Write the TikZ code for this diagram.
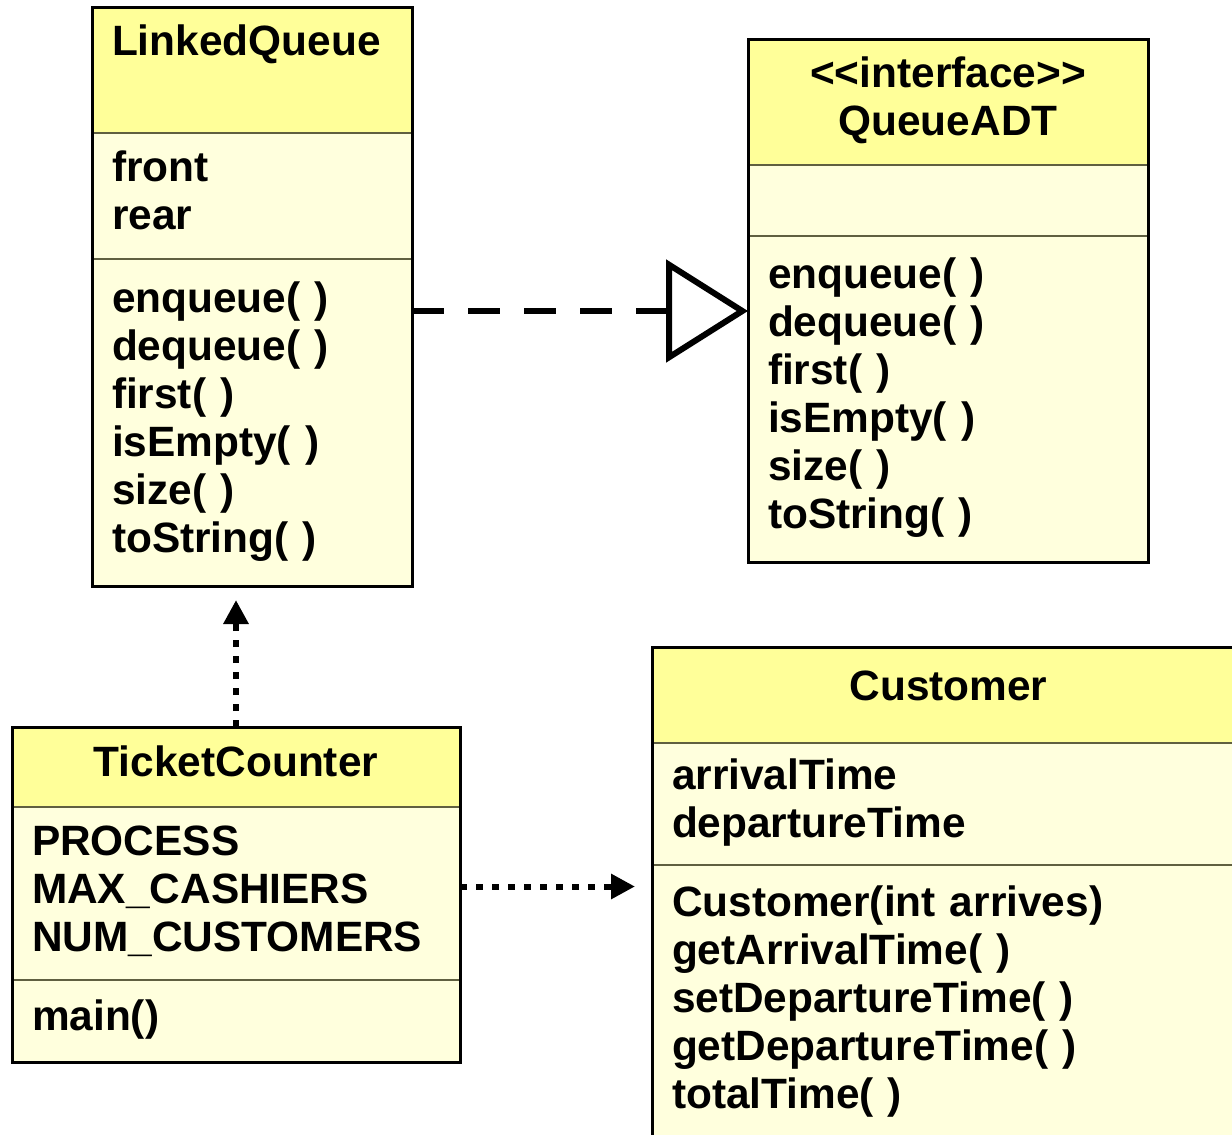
\documentclass[tikz,border=0pt]{standalone}
\usepackage{fontspec}
\setmainfont{Liberation Sans}
\usetikzlibrary{positioning,arrows.meta}
\definecolor{headyellow}{RGB}{255,255,153}
\definecolor{bodyyellow}{RGB}{255,255,221}
\definecolor{sepline}{RGB}{96,96,64}
\newcommand{\umlfont}{\fontsize{42.4}{48}\selectfont\bfseries}
\tikzset{
  classbox/.style={draw=sepline, line width=1.5pt, inner xsep=20pt, inner ysep=0pt,
    outer sep=0pt, font=\umlfont, align=left,
    execute at begin node=\strut, execute at end node=\strut},
  classname/.style={classbox, fill=headyellow},
  classpart/.style={classbox, fill=bodyyellow},
  outline/.style={line width=3pt},
  depend/.style={line width=6pt, dash pattern=on 7pt off 9pt,
    -{Triangle[length=24pt,width=24pt]}},
  realize/.style={line width=6pt, dash pattern=on 32pt off 24pt,
    -{Triangle[fill=white,length=82pt,width=102pt]}}
}
\begin{document}
\begin{tikzpicture}[x=1pt, y=-1pt, node distance=0pt]
\useasboundingbox (0,0) rectangle (1232,1135);
\clip (0,0) rectangle (1232,1135);
% LinkedQueue
\node(lq-name) [classname, anchor=north west, text width=280pt, minimum height=126pt] at (92,7) {LinkedQueue\\\mbox{}};
\node(lq-attr) [classpart, below=of lq-name, text width=280pt, minimum height=126pt] {front\\rear};
\node(lq-ops) [classpart, below=of lq-attr, text width=280pt, minimum height=327pt] {enqueue( )\\dequeue( )\\first( )\\isEmpty( )\\size( )\\toString( )};
\draw[outline] (lq-name.north west) rectangle (lq-ops.south east);
% QueueADT
\node(qa-name) [classname, align=center, anchor=north west, text width=360pt, minimum height=126pt] at (748,39) {<\kern0pt<interface>\kern0pt>\\QueueADT};
\node(qa-attr) [classpart, below=of qa-name, text width=360pt, minimum height=71pt] {};
\node(qa-ops) [classpart, below=of qa-attr, text width=360pt, minimum height=326pt] {enqueue( )\\dequeue( )\\first( )\\isEmpty( )\\size( )\\toString( )};
\draw[outline] (qa-name.north west) rectangle (qa-ops.south east);
% TicketCounter
\node(tc-name) [classname, align=center, anchor=north west, text width=408pt, minimum height=80pt] at (12,727) {TicketCounter};
\node(tc-attr) [classpart, below=of tc-name, text width=408pt, minimum height=173pt] {PROCESS\\MAX\_CASHIERS\\NUM\_CUSTOMERS};
\node(tc-ops) [classpart, below=of tc-attr, text width=408pt, minimum height=82pt] {main()};
\draw[outline] (tc-name.north west) rectangle (tc-ops.south east);
% Customer
\node(cu-name) [classname, align=center, anchor=north west, text width=553pt, minimum height=96pt, text depth=22pt] at (652,647) {Customer};
\node(cu-attr) [classpart, below=of cu-name, text width=553pt, minimum height=122pt] {arrivalTime\\departureTime};
\node(cu-ops) [classpart, below=of cu-attr, text width=553pt, minimum height=275pt] {Customer(int arrives)\\getArrivalTime( )\\setDepartureTime( )\\getDepartureTime( )\\totalTime( )};
\draw[outline] (cu-name.north west) rectangle (cu-ops.south east);
% relations
\draw[realize] ([yshift=-52pt]lq-ops.north east) -- ([yshift=-75pt]qa-ops.north west);
\draw[depend, shorten >=14pt] (tc-name.north) -- (tc-name.north |- lq-ops.south);
\draw[depend, shorten >=17pt] ([yshift=7pt]tc-attr.east) -- ([yshift=7pt]tc-attr.east -| cu-ops.west);
\end{tikzpicture}
\end{document}
